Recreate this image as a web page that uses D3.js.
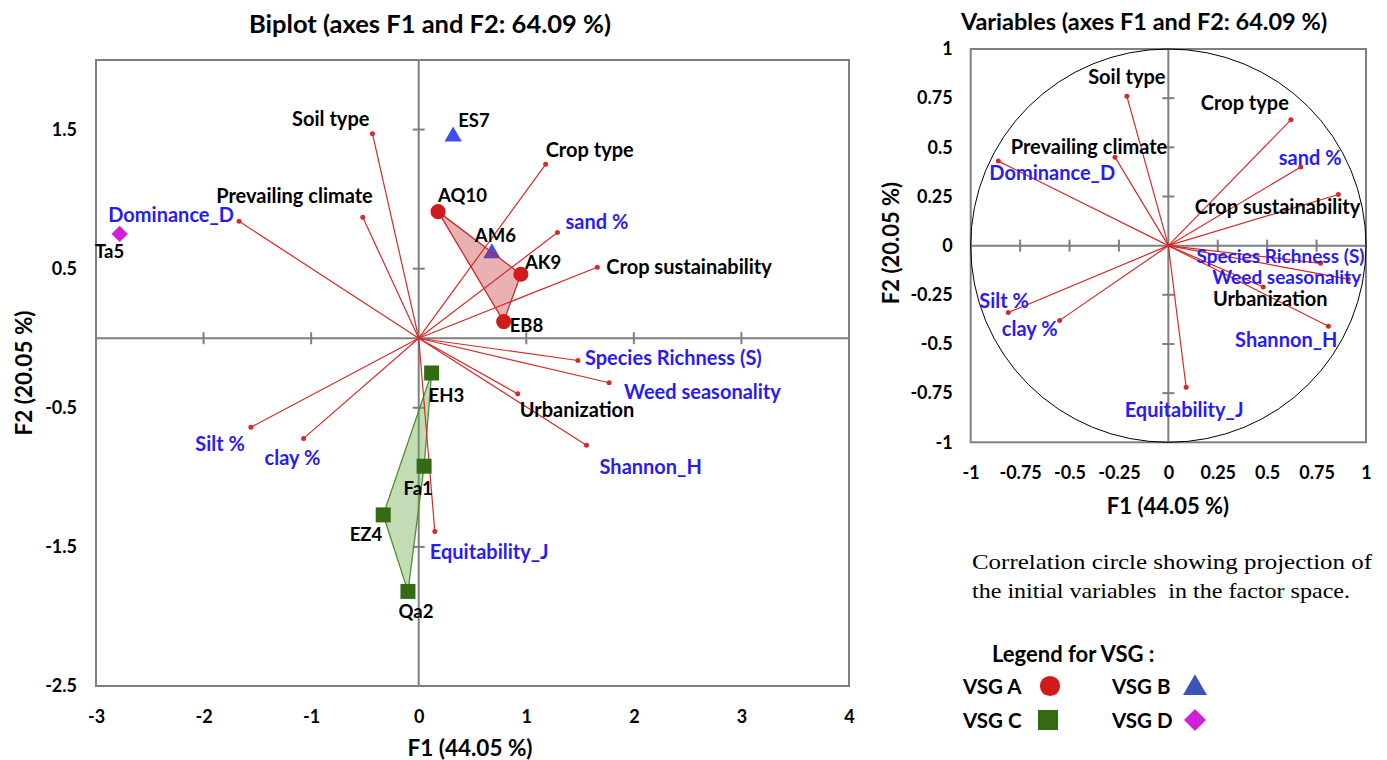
<!DOCTYPE html>
<html>
<head>
<meta charset="utf-8">
<script src="https://cdn.jsdelivr.net/npm/d3@7"></script>
<style>
  body { margin: 0; background: #fff; }
  svg text { font-family: Lato, 'Open Sans', sans-serif; font-weight: bold; }
</style>
</head>
<body>
<svg id="chart" width="1387" height="760"></svg>
<script>
// Active variables: coordinates on the biplot and on the correlation circle
const varNames = ['Soil type', 'Prevailing climate', 'Dominance_D', 'Crop type', 'sand %', 'Crop sustainability',
  'Species Richness (S)', 'Weed seasonality', 'Urbanization', 'Shannon_H', 'Silt %', 'clay %', 'Equitability_J'];
const biplotF1 = [-0.43, -0.52, -1.67, 1.18, 1.29, 1.66, 1.48, 1.77, 0.92, 1.56, -1.56, -1.07, 0.15];
const biplotF2 = [1.47, 0.87, 0.84, 1.25, 0.76, 0.51, -0.16, -0.32, -0.40, -0.77, -0.64, -0.72, -1.39];
const circleF1 = [-0.21, -0.27, -0.86, 0.62, 0.67, 0.86, 0.77, 0.91, 0.48, 0.81, -0.81, -0.55, 0.09];
const circleF2 = [0.76, 0.45, 0.43, 0.64, 0.40, 0.26, -0.09, -0.17, -0.21, -0.41, -0.34, -0.38, -0.72];

// Observations (sites) and their VSG group
const obsNames = ['ES7', 'AQ10', 'AM6', 'AK9', 'EB8', 'Ta5', 'EH3', 'Fa1', 'EZ4', 'Qa2'];
const obsF1 = [0.32, 0.18, 0.68, 0.95, 0.79, -2.78, 0.12, 0.05, -0.33, -0.10];
const obsF2 = [1.45, 0.91, 0.61, 0.46, 0.12, 0.75, -0.25, -0.92, -1.27, -1.82];
const obsGroup = ['B', 'A', 'B', 'A', 'A', 'D', 'C', 'C', 'C', 'C'];
const groupNames = ['A', 'B', 'C', 'D'];
const hullA = ['AQ10', 'AK9', 'EB8'];
const hullC = ['EH3', 'Fa1', 'Qa2', 'EZ4'];

const biplotXTicks = [-3, -2, -1, 0, 1, 2, 3, 4];
const biplotYTicks = [-2.5, -1.5, -0.5, 0.5, 1.5];
const circleTicks = [-1, -0.75, -0.5, -0.25, 0, 0.25, 0.5, 0.75, 1];

// ---- styles ----
const blueVars = new Set(['Dominance_D', 'sand %', 'Species Richness (S)', 'Weed seasonality', 'Shannon_H', 'Silt %', 'clay %', 'Equitability_J']);
const AXIS = '#7f7f7f', VEC = '#d42a2a', BLUE = '#2a1cf0';
const LAB = 20, TICK = 18;
const groupStyle = {
  A: { shape: d3.symbolCircle, fill: '#cf1b1b', rot: 0 },
  B: { shape: d3.symbolTriangle, fill: '#3d4ff0', rot: 0 },
  C: { shape: d3.symbolSquare, fill: '#336b14', rot: 0 },
  D: { shape: d3.symbolSquare, fill: '#d41fd8', rot: 45 }
};
// label offsets [dx, dy, anchor]
const bipLab = {
  'Soil type': [-3, -16, 'end'], 'Prevailing climate': [10, -22, 'end'], 'Dominance_D': [-5, -7, 'end'],
  'Crop type': [0, -15, 'start'], 'sand %': [8, -11, 'start'], 'Crop sustainability': [9, -1, 'start'],
  'Species Richness (S)': [7, -3, 'start'], 'Weed seasonality': [15, 8, 'start'], 'Urbanization': [2, 15, 'start'],
  'Shannon_H': [13, 21, 'start'], 'Silt %': [-6, 16, 'end'], 'clay %': [-39, 19, 'start'], 'Equitability_J': [-5, 19, 'start']
};
const obsLab = {
  ES7: [5, -17, 'start'], AQ10: [0, -17, 'start'], AM6: [-17, -18, 'start'], AK9: [4, -12, 'start'],
  EB8: [6, 3, 'start'], Ta5: [-10, 17, 'middle'], EH3: [-3, 22, 'start'], Fa1: [-6, 22, 'middle'],
  EZ4: [-1, 19, 'end'], Qa2: [8, 20, 'middle']
};
const cirLab = {
  'Soil type': [0, -20, 'middle'], 'Prevailing climate': [-26, -11, 'middle'], 'Dominance_D': [-9, 11, 'start'],
  'Crop type': [-2, -18, 'end'], 'sand %': [-22, -10, 'start'], 'Crop sustainability': [22, 11, 'end'],
  'Species Richness (S)': [44, -8, 'end'], 'Weed seasonality': [13, -3, 'end'], 'Urbanization': [7, 11, 'middle'],
  'Shannon_H': [9, 13, 'end'], 'Silt %': [-29, -13, 'start'], 'clay %': [-2, 8, 'end'], 'Equitability_J': [-2, 22, 'middle']
};

const svg = d3.select('#chart');
const fmt = d => String(d);

// ================= Biplot =================
const x = d3.scaleLinear().domain([-3, 4]).range([96, 849]);
const y = d3.scaleLinear().domain([-2.5, 2]).range([686, 60]);
const bip = svg.append('g');

bip.append('text').attr('x', 430).attr('y', 23).attr('text-anchor', 'middle')
  .attr('dominant-baseline', 'central').attr('font-size', 25.5).text('Biplot (axes F1 and F2: 64.09 %)');

bip.append('rect').attr('x', x(-3)).attr('y', y(2)).attr('width', x(4) - x(-3)).attr('height', y(-2.5) - y(2))
  .attr('fill', 'none').attr('stroke', AXIS).attr('stroke-width', 2);
bip.append('line').attr('x1', x(-3)).attr('x2', x(4)).attr('y1', y(0)).attr('y2', y(0)).attr('stroke', AXIS).attr('stroke-width', 2);
bip.append('line').attr('x1', x(0)).attr('x2', x(0)).attr('y1', y(2)).attr('y2', y(-2.5)).attr('stroke', AXIS).attr('stroke-width', 2);
bip.selectAll('.xt').data(biplotXTicks.filter(d => d !== 0 && d > -3 && d < 4)).join('line')
  .attr('x1', d => x(d)).attr('x2', d => x(d)).attr('y1', y(0) - 6).attr('y2', y(0) + 6).attr('stroke', AXIS).attr('stroke-width', 2);
bip.selectAll('.yt').data(biplotYTicks.filter(d => d > -2.5)).join('line')
  .attr('x1', x(0) - 6).attr('x2', x(0) + 6).attr('y1', d => y(d)).attr('y2', d => y(d)).attr('stroke', AXIS).attr('stroke-width', 2);

const bx = bip.append('g').attr('transform', `translate(0,${y(-2.5)})`)
  .call(d3.axisBottom(x).tickValues(biplotXTicks).tickFormat(fmt).tickSize(0).tickPadding(24));
const by = bip.append('g').attr('transform', `translate(${x(-3)},0)`)
  .call(d3.axisLeft(y).tickValues(biplotYTicks).tickFormat(fmt).tickSize(0).tickPadding(19));
[bx, by].forEach(g => { g.select('.domain').remove(); g.selectAll('text').attr('font-size', TICK).attr('fill', '#000'); });

bip.append('text').attr('x', 470).attr('y', 747).attr('text-anchor', 'middle').attr('dominant-baseline', 'central')
  .attr('font-size', 22.5).text('F1 (44.05 %)');
bip.append('text').attr('transform', 'translate(23,373) rotate(-90)').attr('text-anchor', 'middle')
  .attr('dominant-baseline', 'central').attr('font-size', 22.5).text('F2 (20.05 %)');

// observations of groups B and D sit under the hulls
const obs = obsNames.map((n, i) => ({ name: n, f1: obsF1[i], f2: obsF2[i], g: obsGroup[i] }));
const byName = Object.fromEntries(obs.map(o => [o.name, o]));
const sym = (g, size) => d3.symbol().type(groupStyle[g].shape).size(size)();
const symSize = { A: 180, B: 130, C: 225, D: 135 };
const place = (px, py, g) => `translate(${px},${py}) rotate(${groupStyle[g].rot})`;

bip.selectAll('.obsBD').data(obs.filter(o => o.g === 'B' || o.g === 'D')).join('path')
  .attr('transform', o => place(x(o.f1), y(o.f2), o.g))
  .attr('d', o => sym(o.g, symSize[o.g])).attr('fill', o => groupStyle[o.g].fill);

const line = d3.line().x(o => x(o.f1)).y(o => y(o.f2)).curve(d3.curveLinearClosed);
bip.append('path').attr('d', line(hullA.map(n => byName[n])))
  .attr('fill', 'rgba(195,40,40,0.36)').attr('stroke', '#c42a2a').attr('stroke-width', 1.3);
bip.append('path').attr('d', line(hullC.map(n => byName[n])))
  .attr('fill', 'rgba(110,175,80,0.42)').attr('stroke', '#4f8f30').attr('stroke-width', 1.3);

const vars = varNames.map((n, i) => ({ name: n, b1: biplotF1[i], b2: biplotF2[i], c1: circleF1[i], c2: circleF2[i] }));
bip.selectAll('.vec').data(vars).join('line')
  .attr('x1', x(0)).attr('y1', y(0)).attr('x2', d => x(d.b1)).attr('y2', d => y(d.b2))
  .attr('stroke', VEC).attr('stroke-width', 1.2);
bip.selectAll('.vdot').data(vars).join('circle')
  .attr('cx', d => x(d.b1)).attr('cy', d => y(d.b2)).attr('r', 2.5).attr('fill', VEC);

bip.selectAll('.obsAC').data(obs.filter(o => o.g === 'A' || o.g === 'C')).join('path')
  .attr('transform', o => place(x(o.f1), y(o.f2), o.g))
  .attr('d', o => sym(o.g, symSize[o.g])).attr('fill', o => groupStyle[o.g].fill);

bip.selectAll('.vlab').data(vars).join('text')
  .attr('x', d => x(d.b1) + bipLab[d.name][0]).attr('y', d => y(d.b2) + bipLab[d.name][1])
  .attr('text-anchor', d => bipLab[d.name][2]).attr('dominant-baseline', 'central')
  .attr('font-size', LAB).attr('fill', d => blueVars.has(d.name) ? BLUE : '#000').text(d => d.name);
bip.selectAll('.olab').data(obs).join('text')
  .attr('x', o => x(o.f1) + obsLab[o.name][0]).attr('y', o => y(o.f2) + obsLab[o.name][1])
  .attr('text-anchor', o => obsLab[o.name][2]).attr('dominant-baseline', 'central')
  .attr('font-size', 18.5).attr('fill', '#000').text(o => o.name);

// ================= Correlation circle =================
const cx = d3.scaleLinear().domain([-1, 1]).range([970.7, 1366]);
const cy = d3.scaleLinear().domain([-1, 1]).range([442.3, 49]);
const cir = svg.append('g');

cir.append('text').attr('x', 1144).attr('y', 21).attr('text-anchor', 'middle').attr('dominant-baseline', 'central')
  .attr('font-size', 23.5).text('Variables (axes F1 and F2: 64.09 %)');
cir.append('rect').attr('x', cx(-1)).attr('y', cy(1)).attr('width', cx(1) - cx(-1)).attr('height', cy(-1) - cy(1))
  .attr('fill', 'none').attr('stroke', AXIS).attr('stroke-width', 2);
cir.append('line').attr('x1', cx(-1)).attr('x2', cx(1)).attr('y1', cy(0)).attr('y2', cy(0)).attr('stroke', AXIS).attr('stroke-width', 2);
cir.append('line').attr('x1', cx(0)).attr('x2', cx(0)).attr('y1', cy(1)).attr('y2', cy(-1)).attr('stroke', AXIS).attr('stroke-width', 2);
const inner = circleTicks.filter(d => d !== 0 && Math.abs(d) < 1);
cir.selectAll('.cxt').data(inner).join('line')
  .attr('x1', d => cx(d)).attr('x2', d => cx(d)).attr('y1', cy(0) - 6).attr('y2', cy(0) + 6).attr('stroke', AXIS).attr('stroke-width', 2);
cir.selectAll('.cyt').data(inner).join('line')
  .attr('x1', cx(0) - 6).attr('x2', cx(0) + 6).attr('y1', d => cy(d)).attr('y2', d => cy(d)).attr('stroke', AXIS).attr('stroke-width', 2);
cir.append('ellipse').attr('cx', cx(0)).attr('cy', cy(0)).attr('rx', cx(1) - cx(0)).attr('ry', cy(0) - cy(1))
  .attr('fill', 'none').attr('stroke', '#000').attr('stroke-width', 1);

const cax = cir.append('g').attr('transform', `translate(0,${cy(-1)})`)
  .call(d3.axisBottom(cx).tickValues(circleTicks).tickFormat(fmt).tickSize(0).tickPadding(24));
const cay = cir.append('g').attr('transform', `translate(${cx(-1)},0)`)
  .call(d3.axisLeft(cy).tickValues(circleTicks).tickFormat(fmt).tickSize(0).tickPadding(18));
[cax, cay].forEach(g => { g.select('.domain').remove(); g.selectAll('text').attr('font-size', TICK).attr('fill', '#000'); });

cir.append('text').attr('x', 1168).attr('y', 505).attr('text-anchor', 'middle').attr('dominant-baseline', 'central')
  .attr('font-size', 22).text('F1 (44.05 %)');
cir.append('text').attr('transform', 'translate(890,243) rotate(-90)').attr('text-anchor', 'middle')
  .attr('dominant-baseline', 'central').attr('font-size', 22).text('F2 (20.05 %)');

cir.selectAll('.cvec').data(vars).join('line')
  .attr('x1', cx(0)).attr('y1', cy(0)).attr('x2', d => cx(d.c1)).attr('y2', d => cy(d.c2))
  .attr('stroke', VEC).attr('stroke-width', 1.2);
cir.selectAll('.cdot').data(vars).join('circle')
  .attr('cx', d => cx(d.c1)).attr('cy', d => cy(d.c2)).attr('r', 2.5).attr('fill', VEC);
cir.selectAll('.clab').data(vars).join('text')
  .attr('x', d => cx(d.c1) + cirLab[d.name][0]).attr('y', d => cy(d.c2) + cirLab[d.name][1])
  .attr('text-anchor', d => cirLab[d.name][2]).attr('dominant-baseline', 'central')
  .attr('font-size', d => d.name === 'Species Richness (S)' || d.name === 'Weed seasonality' ? 19 : LAB)
  .attr('fill', d => blueVars.has(d.name) ? BLUE : '#000').text(d => d.name);

// caption
['Correlation circle showing projection of', 'the initial variables  in the factor space.'].forEach((t, i) => {
  svg.append('text').attr('x', 972).attr('y', 561 + i * 29).attr('dominant-baseline', 'central')
    .style('font-family', "'Liberation Serif', 'Times New Roman', serif").style('font-weight', 'normal').style('white-space', 'pre')
    .attr('font-size', 22).attr('textLength', i === 0 ? 400 : 378).attr('lengthAdjust', 'spacingAndGlyphs').text(t);
});

// legend
const leg = svg.append('g');
leg.append('text').attr('x', 992).attr('y', 653).attr('dominant-baseline', 'central').attr('font-size', 22).text('Legend for VSG :');
const legPos = { A: [963, 686, 1050], B: [1112, 686, 1195], C: [963, 720, 1048], D: [1112, 720, 1195] };
const legSize = { A: 320, B: 250, C: 400, D: 240 };
groupNames.forEach(g => {
  const [tx, ty, mx] = legPos[g];
  leg.append('text').attr('x', tx).attr('y', ty).attr('dominant-baseline', 'central').attr('font-size', 20.5).text('VSG ' + g);
  leg.append('path').attr('transform', place(mx, ty + (g === 'B' ? 2 : 0), g))
    .attr('d', sym(g, legSize[g])).attr('fill', g === 'B' ? '#3a55b8' : groupStyle[g].fill);
});
</script>
</body>
</html>
